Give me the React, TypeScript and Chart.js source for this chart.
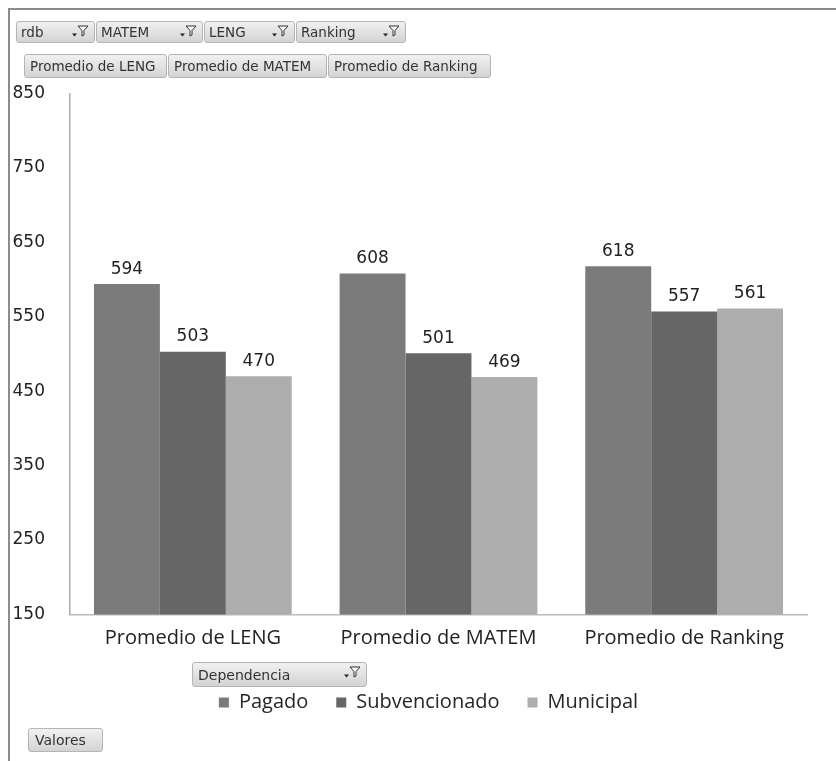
import React, { useEffect, useRef } from "react";
import { Chart, registerables } from "chart.js";

Chart.register(...registerables);

const categories = ["Promedio de LENG", "Promedio de MATEM", "Promedio de Ranking"];
const seriesNames = ["Pagado", "Subvencionado", "Municipal"];
const pagado = [594, 608, 618];
const subvencionado = [503, 501, 557];
const municipal = [470, 469, 561];
const yTicks = [150, 250, 350, 450, 550, 650, 750, 850];
const seriesColors = ["#7b7b7b", "#666666", "#adadad"];

const pageFilters = ["rdb", "MATEM", "LENG", "Ranking"];
const valueFields = ["Promedio de LENG", "Promedio de MATEM", "Promedio de Ranking"];
const legendField = "Dependencia";
const valuesField = "Valores";

const btnBase: React.CSSProperties = {
  position: "absolute",
  boxSizing: "border-box",
  background: "linear-gradient(#f1f1f1, #d3d3d3)",
  border: "1px solid #b5b5b5",
  borderRadius: 3,
  fontFamily: '"DejaVu Sans", sans-serif',
  color: "#333",
  display: "flex",
  alignItems: "center",
  whiteSpace: "nowrap",
  overflow: "hidden",
};

function FilterIcon() {
  return (
    <svg width="17" height="13" viewBox="0 0 17 13" style={{ position: "absolute", right: 5, top: 3 }}>
      <polygon points="0,8.5 5,8.5 2.5,11.5" fill="#222" />
      <polygon points="6,1 16,1 12,5.5 12,10 10,11 10,5.5" fill="#fafafa" stroke="#333" strokeWidth="1" />
    </svg>
  );
}

type Btn = { label: string; left: number; top: number; width: number; height: number; size: number; pad: number; filter: boolean };

const rowOneLayout = [
  [6, 79],
  [86, 107],
  [194, 91],
  [286, 110],
];
const rowTwoLayout = [
  [14, 143],
  [158, 159],
  [318, 163],
];

const valueLabelsPlugin = {
  id: "valueLabels",
  afterDatasetsDraw(chart: any) {
    const ctx = chart.ctx;
    ctx.save();
    ctx.font = '17px "DejaVu Sans"';
    ctx.fillStyle = "#222";
    ctx.textAlign = "center";
    ctx.textBaseline = "alphabetic";
    chart.data.datasets.forEach((ds: any, i: number) => {
      const meta = chart.getDatasetMeta(i);
      meta.data.forEach((el: any, j: number) => {
        ctx.fillText(String(ds.data[j]), el.x, el.y - 10.5);
      });
    });
    ctx.restore();
  },
};

// nudges the legend box so it sits where the reference places it
const legendOffsetPlugin = {
  id: "legendOffset",
  afterLayout(chart: any) {
    const lg = chart.legend;
    if (!lg) return;
    lg.left += 19;
    lg.right += 19;
    lg.top += 2;
    lg.bottom += 2;
  },
};

export default function App() {
  const canvasRef = useRef<HTMLCanvasElement | null>(null);

  useEffect(() => {
    if (!canvasRef.current) return;
    const seriesValues = [pagado, subvencionado, municipal];
    const chart = new Chart(canvasRef.current, {
      type: "bar",
      data: {
        labels: categories,
        datasets: seriesNames.map((name, i) => ({
          label: name,
          data: seriesValues[i],
          backgroundColor: seriesColors[i],
          borderWidth: 0,
          barPercentage: 1,
          categoryPercentage: 0.805,
        })),
      },
      options: {
        animation: false,
        responsive: true,
        maintainAspectRatio: false,
        layout: { padding: { left: 2, right: 29, top: 83.5, bottom: 40.5 } },
        plugins: {
          tooltip: { enabled: false },
          legend: {
            position: "bottom",
            labels: {
              font: { family: '"Open Sans"', size: 20 },
              color: "#262626",
              boxWidth: 10,
              boxHeight: 10,
              padding: 28,
            },
          },
        },
        scales: {
          x: {
            grid: { display: false, drawTicks: false },
            border: { display: true, color: "#bbbbbb", width: 1.5 },
            ticks: { font: { family: '"Open Sans"', size: 20 }, color: "#222", padding: 12 },
          },
          y: {
            min: 150,
            max: 850,
            grid: { display: false, drawTicks: false },
            border: { display: true, color: "#aaaaaa", width: 1.5 },
            afterBuildTicks: (scale: any) => {
              scale.ticks = yTicks.map((v) => ({ value: v }));
            },
            afterFit: (scale: any) => {
              scale.width = 58;
            },
            ticks: { font: { family: '"DejaVu Sans"', size: 17 }, color: "#222", padding: 25 },
          },
        },
      },
      plugins: [valueLabelsPlugin, legendOffsetPlugin],
    } as any);
    return () => chart.destroy();
  }, []);

  const buttons: Btn[] = [
    ...pageFilters.map((label, i) => ({ label, left: rowOneLayout[i][0], top: 11, width: rowOneLayout[i][1], height: 22, size: 13.5, pad: 4, filter: true })),
    ...valueFields.map((label, i) => ({ label, left: rowTwoLayout[i][0], top: 44, width: rowTwoLayout[i][1], height: 24, size: 13.5, pad: 5, filter: false })),
    { label: legendField, left: 182, top: 652, width: 175, height: 25, size: 14, pad: 5, filter: true },
    { label: valuesField, left: 18, top: 718, width: 75, height: 24, size: 14, pad: 6, filter: false },
  ];

  return (
    <div
      style={{
        position: "absolute",
        left: 8,
        top: 8,
        width: 828,
        height: 753,
        boxSizing: "border-box",
        borderTop: "2px solid #8c8c8c",
        borderLeft: "2px solid #8c8c8c",
        background: "#fff",
      }}
    >
      <div style={{ position: "absolute", left: 0, top: 0, width: 826, height: 751 }}>
        <canvas ref={canvasRef} />
      </div>
      {buttons.map((b, i) => (
        <div
          key={i}
          style={{ ...btnBase, left: b.left, top: b.top, width: b.width, height: b.height, fontSize: b.size, paddingLeft: b.pad }}
        >
          {b.label}
          {b.filter ? <FilterIcon /> : null}
        </div>
      ))}
    </div>
  );
}
